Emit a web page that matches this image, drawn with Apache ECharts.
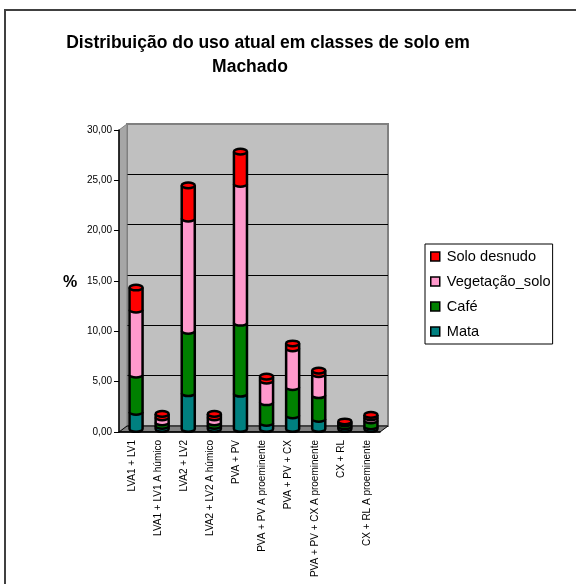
<!DOCTYPE html>
<html>
<head>
<meta charset="utf-8">
<script src="https://cdn.jsdelivr.net/npm/echarts@6/dist/echarts.min.js"></script>
<style>
  html, body { margin: 0; padding: 0; background: #fff; }
  #chart { width: 576px; height: 584px; }
</style>
</head>
<body>
<div id="chart"></div>
<script>
// dados (%)
const categories = ['LVA1 + LV1', 'LVA1 + LV1 A húmico', 'LVA2 + LV2', 'LVA2 + LV2 A húmico', 'PVA + PV',
  'PVA + PV A proeminente', 'PVA + PV + CX', 'PVA + PV + CX A proeminente', 'CX + RL', 'CX + RL A proeminente'];
const mata = [1.7, 0.3, 3.55, 0.3, 3.5, 0.6, 1.35, 1.0, 0.25, 0.25];
const cafe = [3.7, 0.35, 6.2, 0.35, 7.05, 2.05, 2.8, 2.35, 0.3, 0.6];
const vegetacao = [6.45, 0.5, 11.15, 0.5, 13.8, 2.15, 3.85, 2.1, 0.1, 0.3];
const solo = [2.2, 0.35, 3.3, 0.35, 3.2, 0.4, 0.5, 0.35, 0.1, 0.25];
const yTicks = [0, 5, 10, 15, 20, 25, 30];

const layers = [
  { name: 'Mata', values: mata, color: '#008080' },
  { name: 'Café', values: cafe, color: '#008000' },
  { name: 'Vegetação_solo', values: vegetacao, color: '#ff99cc' },
  { name: 'Solo desnudo', values: solo, color: '#ff0000' }
];

const font = '"Liberation Sans", Arial, sans-serif';

// paredes 3D: frente, meio (barras) e fundo
const front = { left: 119, top: 130, width: 261, height: 302 };
const dx = 8, dy = -6;
const mid = { left: front.left + dx / 2, top: front.top + dy / 2, width: front.width, height: front.height };
const back = { left: front.left + dx, top: front.top + dy, width: front.width, height: front.height };

const myChart = echarts.init(document.getElementById('chart'));

// tabela empilhada [indice, base, topo]
const stacked = [];
let bases = categories.map(() => 0);
layers.forEach((l, k) => {
  stacked.push(l.values.map((v, i) => {
    const b = bases[i];
    bases[i] = b + v;
    return [i, b, b + v];
  }));
});

function cylinder(color, isTop) {
  return function (params, api) {
    const i = api.value(0);
    const p0 = api.coord([i, api.value(1)]);
    const p1 = api.coord([i, api.value(2)]);
    const w = api.size([1, 0])[0] * 0.5;
    const rx = w / 2, ry = 2.8;
    const xl = p0[0] - rx, xr = p0[0] + rx;
    const children = [{
      type: 'path',
      shape: {
        pathData: 'M' + xl + ' ' + p1[1] + ' L' + xl + ' ' + p0[1] +
          ' A' + rx + ' ' + ry + ' 0 0 0 ' + xr + ' ' + p0[1] + ' L' + xr + ' ' + p1[1]
      },
      style: { fill: color, stroke: '#000', lineWidth: 2.5 }
    }];
    if (isTop) {
      children.push({
        type: 'ellipse',
        shape: { cx: p0[0], cy: p1[1], rx: rx, ry: ry },
        style: { fill: color, stroke: '#000', lineWidth: 2.5 }
      });
    }
    return { type: 'group', children: children };
  };
}

const option = {
  animation: false,
  backgroundColor: '#fff',
  graphic: [
    { type: 'rect', shape: { x: 5, y: 10, width: 700, height: 700 },
      style: { fill: 'none', stroke: '#404040', lineWidth: 2 }, z: 0 },
    { type: 'text', x: 268, y: 43, style: { text: 'Distribuição do uso atual em classes de solo em',
      font: 'bold 17.5px ' + font, fill: '#000', align: 'center', verticalAlign: 'middle' } },
    { type: 'text', x: 250, y: 67, style: { text: 'Machado',
      font: 'bold 17.5px ' + font, fill: '#000', align: 'center', verticalAlign: 'middle' } },
    { type: 'text', x: 70, y: 283, style: { text: '%',
      font: 'bold 16px ' + font, fill: '#000', align: 'center', verticalAlign: 'middle' } },
    // parede lateral
    { type: 'polygon', z: 1, shape: { points: [
      [front.left, front.top], [back.left, back.top],
      [back.left, back.top + back.height], [front.left, front.top + front.height]] },
      style: { fill: '#a6a6a6', stroke: '#808080', lineWidth: 1 } },
    // piso
    { type: 'polygon', z: 1, shape: { points: [
      [front.left, front.top + front.height], [back.left, back.top + back.height],
      [back.left + back.width, back.top + back.height], [front.left + front.width, front.top + front.height]] },
      style: { fill: '#808080', stroke: '#000', lineWidth: 1 } }
  ],
  legend: {
    orient: 'vertical',
    left: 425,
    top: 244,
    padding: [5, 2, 5, 5],
    itemWidth: 9,
    itemHeight: 9,
    itemGap: 10,
    icon: 'rect',
    borderColor: '#000',
    borderWidth: 1,
    itemStyle: { borderColor: '#000', borderWidth: 1.5 },
    textStyle: { fontSize: 14.6, fontFamily: font, color: '#000', padding: [0, 0, 0, 2] },
    data: ['Solo desnudo', 'Vegetação_solo', 'Café', 'Mata']
  },
  grid: [
    { left: back.left, top: back.top, width: back.width, height: back.height, show: true,
      backgroundColor: '#c0c0c0', borderColor: '#808080', borderWidth: 2 },
    { left: mid.left, top: mid.top, width: mid.width, height: mid.height },
    { left: front.left, top: front.top, width: front.width, height: front.height }
  ],
  xAxis: [
    { gridIndex: 0, type: 'category', data: categories, show: false },
    { gridIndex: 1, type: 'category', data: categories, show: false },
    { gridIndex: 2, type: 'category', data: categories, z: 10,
      axisLine: { lineStyle: { color: '#000', width: 1.5 } },
      axisTick: { length: 5, lineStyle: { color: '#000' } },
      axisLabel: { interval: 0, rotate: 90, margin: 8, fontSize: 10, fontFamily: font, color: '#000' } }
  ],
  yAxis: [
    { gridIndex: 0, type: 'value', min: 0, max: 30, interval: 5,
      axisLine: { show: false }, axisTick: { show: false }, axisLabel: { show: false },
      splitLine: { show: true, showMinLine: false, showMaxLine: false, lineStyle: { color: '#000', width: 1 } } },
    { gridIndex: 1, type: 'value', min: 0, max: 30, interval: 5, show: false, splitLine: { show: false } },
    { gridIndex: 2, type: 'value', min: 0, max: 30, interval: 5, z: 10,
      axisLine: { show: true, lineStyle: { color: '#000', width: 1.5 } },
      axisTick: { show: true, length: 5, lineStyle: { color: '#000' } },
      splitLine: { show: false },
      axisLabel: { fontSize: 10, fontFamily: font, color: '#000', margin: 7,
        formatter: v => yTicks.includes(v) ? v.toFixed(2).replace('.', ',') : '' } }
  ],
  series: layers.map((l, k) => ({
    name: l.name,
    type: 'custom',
    xAxisIndex: 1,
    yAxisIndex: 1,
    z: 3 + k,
    itemStyle: { color: l.color },
    encode: { x: 0, y: [1, 2] },
    renderItem: cylinder(l.color, k === layers.length - 1),
    data: stacked[k]
  }))
};

myChart.setOption(option);

window.addEventListener('resize', () => {
  myChart.resize();
});
</script>
</body>
</html>
